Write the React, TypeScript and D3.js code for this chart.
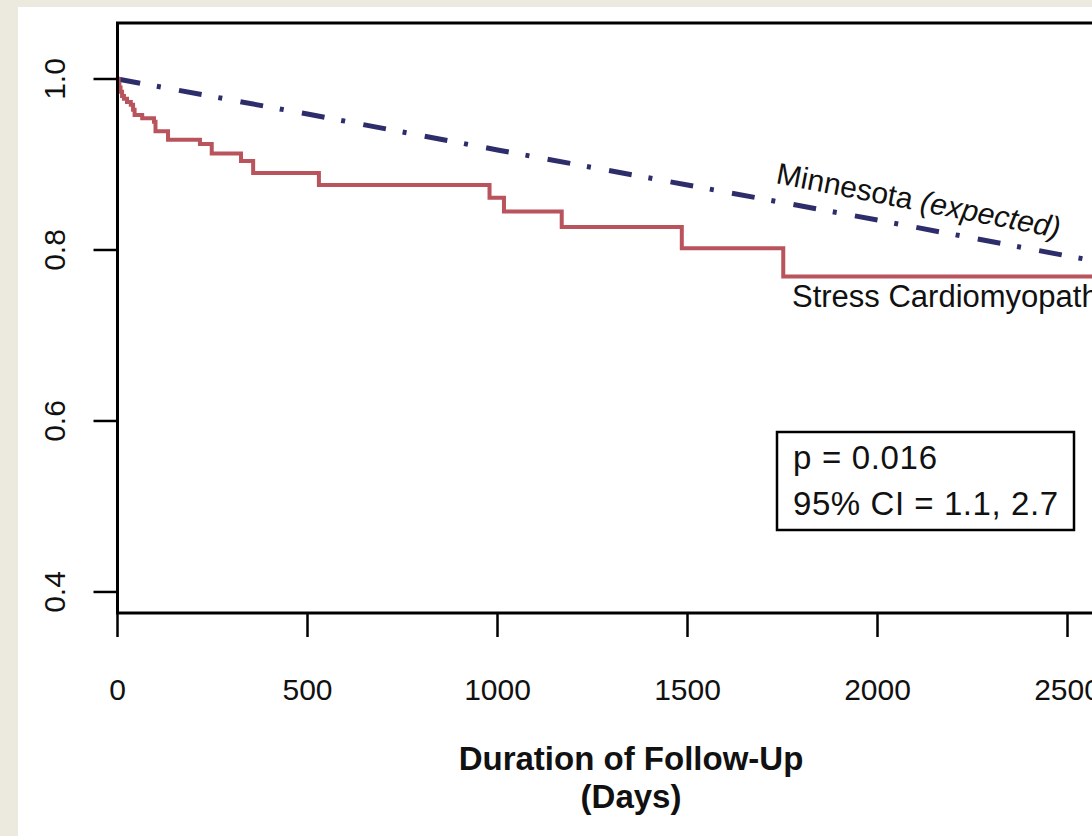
import React, { useEffect } from 'react';
import * as d3 from 'd3';

// ---- data ----
const xTicks = [0, 500, 1000, 1500, 2000, 2500];
const yTicks = [0.4, 0.6, 0.8, 1.0];

// Kaplan–Meier: Stress Cardiomyopathy (day of event, survival after event)
const kmDays = [0, 3, 5, 8, 12, 17, 25, 35, 41, 45, 65, 96, 100, 133, 217, 248, 325, 357, 530, 979, 1017, 1169, 1485, 1752, 2600];
const kmSurv = [1.0, 0.994, 0.99, 0.985, 0.98, 0.977, 0.973, 0.97, 0.964, 0.958, 0.954, 0.95, 0.939, 0.929, 0.924, 0.913, 0.904, 0.89, 0.876, 0.861, 0.845, 0.827, 0.802, 0.769, 0.769];

// Expected survival: Minnesota population
const expDays = [0, 500, 1000, 1500, 2000, 2500, 2600];
const expSurv = [1.0, 0.959, 0.917, 0.876, 0.835, 0.793, 0.785];

const seriesLabels = { expected: 'Minnesota (expected)', observed: 'Stress Cardiomyopathy' };
const statLines = ['p = 0.016', '95% CI = 1.1, 2.7'];
const xTitle = ['Duration of Follow-Up', '(Days)'];

const FONT = "'Liberation Sans', Arial, Helvetica, sans-serif";

export default function App() {
  useEffect(() => {
    document.body.style.margin = '0';
  }, []);

  const W = 1092;
  const H = 836;
  const x = d3.scaleLinear().domain([0, 2600]).range([117.5, 117.5 + 2600 * 0.38]);
  const y = d3.scaleLinear().domain([0.3754, 1.0655]).range([613, 23]);

  const km = kmDays.map((d, i) => [d, kmSurv[i]] as [number, number]);
  const ex = expDays.map((d, i) => [d, expSurv[i]] as [number, number]);

  const kmLine = d3
    .line<[number, number]>()
    .x((d) => x(d[0]))
    .y((d) => y(d[1]))
    .curve(d3.curveStepAfter);
  const exLine = d3
    .line<[number, number]>()
    .x((d) => x(d[0]))
    .y((d) => y(d[1]));

  const left = x(0);
  const top = y(1.0655);
  const bottom = y(0.3754);

  return (
    <svg width={W} height={H} style={{ display: 'block', position: 'absolute', left: 0, top: 0 }} fontFamily={FONT}>
      <rect x={0} y={0} width={W} height={H} fill="#ece9df" />
      <rect x={18} y={7} width={W - 18} height={H - 7} fill="#ffffff" />

      {/* curves */}
      <path d={exLine(ex) || ''} fill="none" stroke="#2d2d6b" strokeWidth={5} strokeDasharray="23 17 4 18.5" />
      <path d={kmLine(km) || ''} fill="none" stroke="#b9535c" strokeWidth={4} />

      {/* frame */}
      <rect x={left} y={top} width={x(2600) + 60 - left} height={bottom - top} fill="none" stroke="#000" strokeWidth={3} />

      {/* y axis */}
      {yTicks.map((t) => (
        <g key={t}>
          <line x1={left - 24} x2={left} y1={y(t)} y2={y(t)} stroke="#000" strokeWidth={2.5} />
          <text
            transform={`translate(65,${y(t)}) rotate(-90)`}
            textAnchor="middle"
            fontSize={30}
            fill="#111"
          >
            {t.toFixed(1)}
          </text>
        </g>
      ))}

      {/* x axis */}
      {xTicks.map((t) => (
        <g key={t}>
          <line x1={x(t)} x2={x(t)} y1={bottom} y2={bottom + 24} stroke="#000" strokeWidth={2.5} />
          <text x={x(t)} y={700} textAnchor="middle" fontSize={30} fill="#111">
            {t}
          </text>
        </g>
      ))}

      {/* axis title */}
      <text x={631} y={770} textAnchor="middle" fontSize={33} fontWeight="bold" fill="#111">
        {xTitle[0]}
      </text>
      <text x={631} y={808} textAnchor="middle" fontSize={33} fontWeight="bold" fill="#111">
        {xTitle[1]}
      </text>

      {/* series labels */}
      <text transform="translate(775,183) rotate(11)" fontSize={30} fill="#111">
        <tspan>Minnesota </tspan>
        <tspan fontStyle="italic">(expected)</tspan>
      </text>
      <text x={792} y={307} fontSize={31} fill="#111">
        {seriesLabels.observed}
      </text>

      {/* stats box */}
      <rect x={777} y={432} width={297} height={98} fill="#fff" stroke="#000" strokeWidth={2.5} />
      <text x={793} y={469} fontSize={33} fill="#111" textLength={144} lengthAdjust="spacing">
        {statLines[0]}
      </text>
      <text x={793} y={515} fontSize={33} fill="#111" textLength={265} lengthAdjust="spacing">
        {statLines[1]}
      </text>
    </svg>
  );
}
